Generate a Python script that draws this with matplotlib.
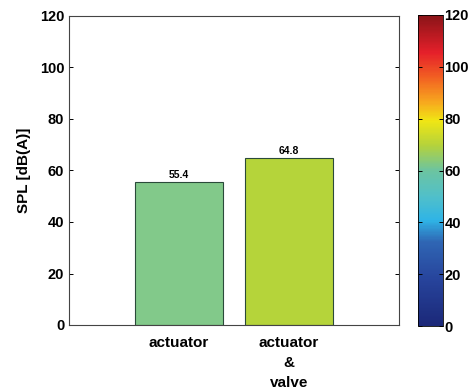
import numpy as np
import matplotlib.pyplot as plt
from matplotlib.colors import LinearSegmentedColormap, Normalize
from matplotlib.colorbar import ColorbarBase

plt.rcParams["font.family"] = ["Liberation Sans", "DejaVu Sans"]
plt.rcParams["font.weight"] = "bold"
plt.rcParams["axes.labelweight"] = "bold"

# ----------------------------------------------------------------- data ----
categories = ["actuator", "actuator\n&\nvalve"]
spl = [55.4, 64.8]
bar_colors = ["#82c98a", "#b5d43a"]
yticks = [0, 20, 40, 60, 80, 100, 120]

# softened jet, as printed in the original figure
jet_soft = LinearSegmentedColormap.from_list("jet_soft", [
    (0.00, "#1b2878"), (0.15, "#27449c"), (0.27, "#2f66b4"),
    (0.34, "#2fb4e6"), (0.42, "#52c0c8"), (0.50, "#6cc4a0"),
    (0.58, "#b4d23c"), (0.66, "#f0e614"), (0.72, "#f7a81e"),
    (0.80, "#f26022"), (0.88, "#e5202a"), (1.00, "#8a1418"),
])

# ------------------------------------------------------------- plotting ----
fig = plt.figure(figsize=(4.69, 3.91), dpi=100)
ax = fig.add_axes([69 / 469, 66 / 391, 330 / 469, 309 / 391])
x = np.arange(1, len(spl) + 1)
ax.bar(x, spl, width=0.8, color=bar_colors, edgecolor="#2a4a3a", linewidth=0.8)
for xi, v in zip(x, spl):
    ax.text(xi, v + 0.8, f"{v}", ha="center", va="bottom", fontsize=7.5,
            fontweight="bold")

ax.set_xlim(0, 3)
ax.set_ylim(0, 120)
ax.set_yticks(yticks)
ax.set_xticks(x)
ax.set_xticklabels(categories, fontsize=11, linespacing=1.55)
ax.tick_params(axis="y", labelsize=10.5, direction="in", length=3, right=True,
               width=0.7)
ax.tick_params(axis="x", length=0, pad=8)
ax.set_ylabel("SPL [dB(A)]", fontsize=11, labelpad=6)
for s in ax.spines.values():
    s.set_color("#444444")
    s.set_linewidth(0.8)

cax = fig.add_axes([418 / 469, 65 / 391, 25 / 469, 311 / 391])
cb = ColorbarBase(cax, cmap=jet_soft, norm=Normalize(0, 120), ticks=yticks)
cb.outline.set_linewidth(0.6)
cax.tick_params(labelsize=10.5, direction="in", length=3, width=0.7, left=True,
                pad=1)

fig.savefig("out.png", dpi=100)
